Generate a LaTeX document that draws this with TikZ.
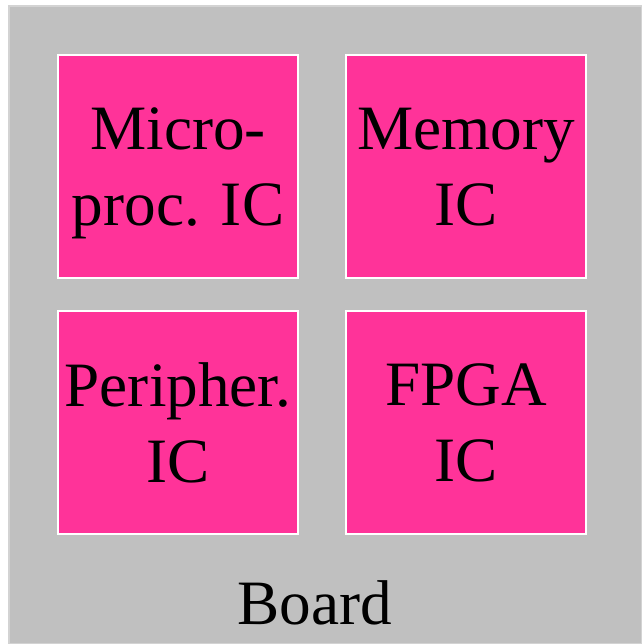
\documentclass[tikz,border=0pt]{standalone}
\usepackage{fontspec}
\setmainfont{Liberation Serif}
\usetikzlibrary{positioning}

\definecolor{boardgray}{RGB}{192,192,192}
\definecolor{chippink}{RGB}{255,51,153}

\tikzset{
  chip/.style={draw=white, line width=0.8pt, fill=chippink, outer sep=0pt,
    minimum width=120pt, minimum height=111.5pt, align=center,
    font=\fontsize{31.6}{38}\selectfont, text depth=0pt},
  board/.style={draw=boardgray!70!white, line width=0.6pt, fill=boardgray}
}

\begin{document}
\begin{tikzpicture}[x=0.5pt,y=-0.5pt]

		\useasboundingbox (0,0) rectangle (642,644);
		\draw[board] (9,6) rectangle (642,644);

		\node[chip] (micro) at (178,166.5) {Micro-\\proc. IC};
		\node[chip, right=24pt of micro] (memory) {Memory\\IC};
		\node[chip, below=16.5pt of micro] (periph) {Peripher.\\IC};
		\node[chip, below=16.5pt of memory] (fpga) {FPGA\\IC};

		\node[font=\fontsize{31.6}{38}\selectfont] (boardlabel) at (315,603) {Board};

\end{tikzpicture}
\end{document}
